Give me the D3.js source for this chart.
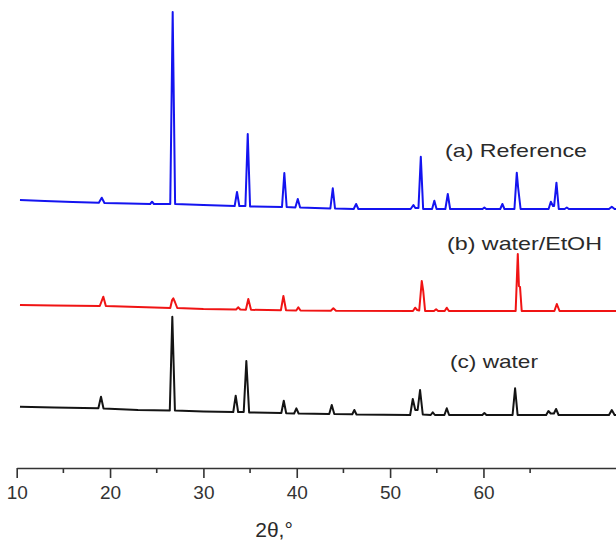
<!DOCTYPE html>
<html>
<head>
<meta charset="utf-8">
<script src="https://cdn.jsdelivr.net/npm/d3@7"></script>
<style>
  body { margin: 0; background: #fff; }
  text { font-family: "Liberation Sans", Arial, sans-serif; }
</style>
</head>
<body>
<script>
// 2theta (deg) vs intensity (a.u.)
var refData = [
  [10.35, 9], [13, 8], [16, 7], [18.8, 6.3], [19.11, 11.3], [19.4, 6], [22, 5.5], [24.3, 5], [24.5, 7.3], [24.7, 5],
  [26.45, 5], [26.71, 197], [26.97, 5], [30, 4], [33.35, 3], [33.6, 17], [33.85, 3], [34.5, 3], [34.75, 75], [35.0, 2.5],
  [38.42, 2], [38.67, 36], [38.92, 2], [39.85, 1.5], [40.11, 10], [40.36, 1.5], [43.6, 0.5], [43.86, 20.7], [44.1, 0.5],
  [46.1, 0], [46.36, 5], [46.6, 0], [52.2, 0], [52.5, 4], [52.7, 1], [53.04, 1], [53.29, 52.3], [53.54, 0],
  [54.5, 0], [54.74, 8.3], [54.98, 0], [55.92, 0], [56.18, 15], [56.43, 0], [59.9, 0], [60.1, 1.5], [60.3, 0],
  [61.8, 0], [62.03, 5], [62.25, 0], [63.32, 0], [63.57, 36.3], [63.72, 21], [63.98, 0], [66.98, 0], [67.22, 7.3],
  [67.45, 3], [67.57, 3], [67.82, 26.3], [68.07, 0], [68.7, 0], [68.93, 1.5], [69.15, 0], [73.45, 0], [73.75, 2.3],
  [74.05, 0], [74.2, 0]
];
var etohData = [
  [10.35, 6], [14, 5.5], [18.9, 5], [19.28, 14.3], [19.55, 5], [23, 4], [26.45, 3], [26.65, 11], [26.78, 12.7],
  [26.95, 9], [27.2, 3], [30, 2], [33.5, 1.5], [33.74, 3.7], [33.95, 1.5], [34.55, 1.3], [34.81, 12], [35.1, 1.2],
  [38.3, 0.7], [38.57, 15], [38.85, 0.7], [39.95, 0.5], [40.17, 3.7], [40.4, 0.5], [43.65, 0.3], [43.92, 2.7],
  [44.2, 0.3], [52.45, 0], [52.68, 3.3], [52.9, 1], [53.12, 0.5], [53.39, 30], [53.55, 20], [53.75, 0], [54.7, 0],
  [54.93, 1.7], [55.15, 0], [55.85, 0], [56.07, 3.3], [56.3, 0], [63.45, 0], [63.68, 57], [63.8, 25], [63.92, 24],
  [64.1, 0], [67.6, 0], [67.86, 7], [68.15, 0], [74.2, 0]
];
var waterData = [
  [10.35, 8.3], [14, 7.5], [18.75, 6.7], [19.03, 18.3], [19.3, 6.5], [23, 5], [26.4, 4.5], [26.67, 98.3], [26.95, 4.5],
  [30, 3.5], [33.2, 3], [33.46, 19.3], [33.72, 3], [34.32, 3], [34.6, 54], [34.9, 2.5], [38.35, 2], [38.61, 14.3],
  [38.87, 1.7], [39.72, 1.5], [39.96, 6.7], [40.2, 1.5], [43.48, 1], [43.75, 10], [44.02, 1], [45.95, 0.7], [46.17, 5],
  [46.4, 0.5], [52.15, 0], [52.43, 16], [52.7, 5], [52.95, 5], [53.21, 25], [53.5, 0.5], [54.35, 0], [54.57, 2.7],
  [54.8, 0], [55.82, 0], [56.07, 6.7], [56.32, 0], [59.88, 0], [60.1, 2], [60.32, 0], [63.12, 0], [63.39, 26.7],
  [63.66, 0], [66.72, 0], [66.96, 4], [67.2, 1.5], [67.55, 1.5], [67.78, 6], [68.05, 0], [73.45, 0], [73.75, 5],
  [74.05, 0], [74.2, 0]
];
var seriesNames = ["(a) Reference", "(b) water/EtOH", "(c) water"];
var seriesOffsets = [259, 157, 53];
var seriesColors = ["#1414f0", "#f01414", "#141414"];
var majorTicks = [10, 20, 30, 40, 50, 60];
var minorTicks = [15, 25, 35, 45, 55, 65];

var width = 616, height = 544;
var svg = d3.select("body").append("svg")
  .attr("width", width)
  .attr("height", height);

var x = d3.scaleLinear().domain([10, 74.2]).range([16.7, 616]);
var y = d3.scaleLinear().domain([0, 460]).range([468, 8]);

var line = d3.line()
  .x(function(d) { return x(d[0]); })
  .y(function(d) { return y(d[1]); });

[refData, etohData, waterData].forEach(function(data, i) {
  var off = seriesOffsets[i];
  svg.append("path")
    .datum(data.map(function(d) { return [d[0], d[1] + off]; }))
    .attr("d", line)
    .attr("fill", "none")
    .attr("stroke", seriesColors[i])
    .attr("stroke-width", 2)
    .attr("stroke-linejoin", "round");
});

// series labels
var labelPos = [[445, 157, 142], [447, 250, 155], [450, 368, 88]];
seriesNames.forEach(function(name, i) {
  svg.append("text")
    .attr("x", labelPos[i][0])
    .attr("y", labelPos[i][1])
    .attr("textLength", labelPos[i][2])
    .attr("lengthAdjust", "spacingAndGlyphs")
    .attr("font-size", 19)
    .attr("fill", "#2a2a2a")
    .text(name);
});

// x axis
var axis = svg.append("g").attr("transform", "translate(0,468)");
axis.call(d3.axisBottom(x).tickValues(majorTicks).tickSize(10).tickSizeOuter(0).tickFormat(d3.format("d")));
axis.call(function(g) {
  g.select(".domain").attr("stroke", "#333").attr("stroke-width", 1.6);
  g.selectAll(".tick line").attr("stroke", "#333").attr("stroke-width", 1.6);
  g.selectAll(".tick text")
    .attr("font-size", 19)
    .attr("font-family", "Liberation Sans, Arial, sans-serif")
    .attr("fill", "#333")
    .attr("dy", null)
    .attr("y", 31);
});
axis.selectAll(".minor")
  .data(minorTicks)
  .enter().append("line")
  .attr("class", "minor")
  .attr("x1", function(d) { return x(d); })
  .attr("x2", function(d) { return x(d); })
  .attr("y1", 0)
  .attr("y2", 5)
  .attr("stroke", "#333")
  .attr("stroke-width", 1.6);

svg.append("text")
  .attr("x", 274)
  .attr("y", 537)
  .attr("text-anchor", "middle")
  .attr("font-size", 21)
  .attr("fill", "#2a2a2a")
  .text("2θ,°");
</script>
</body>
</html>
